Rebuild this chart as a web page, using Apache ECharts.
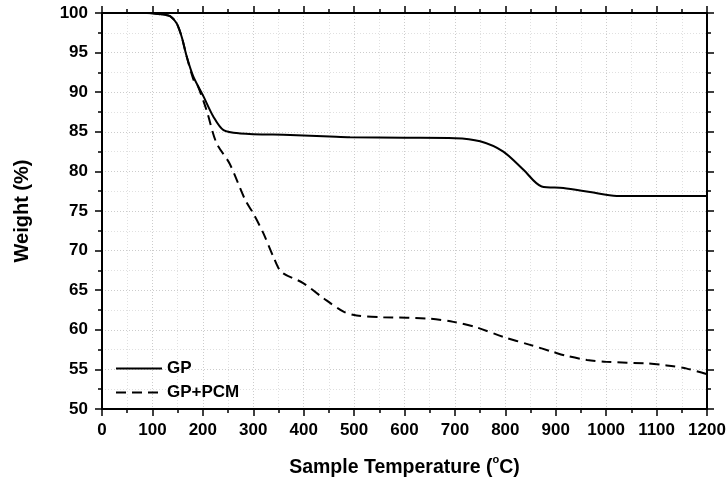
<!DOCTYPE html>
<html><head><meta charset="utf-8">
<script src="https://cdn.jsdelivr.net/npm/echarts@6/dist/echarts.min.js"></script>
<style>html,body{margin:0;padding:0;background:#fff}#c{width:728px;height:481px}</style>
</head><body><div id="c"></div>
<script>
const gpTemp = [0, 60, 89, 120, 135, 148, 158, 168, 181, 201, 221, 241, 274, 373, 452, 492, 600, 700, 750, 796, 836, 872, 915, 968, 1021, 1108, 1200];
const gpWeight = [100, 100, 100, 99.8, 99.6, 98.7, 97.0, 94.5, 92.0, 89.5, 86.9, 85.2, 84.8, 84.6, 84.4, 84.3, 84.25, 84.2, 83.8, 82.5, 80.2, 78.1, 77.9, 77.4, 76.9, 76.9, 76.9];
const pcmTemp = [0, 60, 89, 120, 135, 148, 158, 168, 182, 188, 207, 227, 253, 284, 300, 320, 340, 356, 399, 439, 479, 505, 558, 651, 697, 743, 796, 849, 895, 922, 962, 1001, 1081, 1120, 1160, 1200];
const pcmWeight = [100, 100, 100, 99.8, 99.6, 98.7, 97.0, 94.5, 91.5, 91.1, 87.8, 83.6, 81.0, 76.4, 74.7, 72.2, 69.2, 67.3, 65.9, 64.0, 62.3, 61.8, 61.6, 61.4, 61.0, 60.3, 59.1, 58.1, 57.2, 56.7, 56.2, 55.95, 55.75, 55.5, 55.1, 54.4];
const seriesNames = ['GP', 'GP+PCM'];
const xTitle = 'Sample Temperature (';
const yTitle = 'Weight (%)';

const font = 'Liberation Sans';
const chart = echarts.init(document.getElementById('c'));
const axisLine = {show: true, onZero: false, lineStyle: {color: '#000', width: 2}};
const tick = {show: true, inside: false, length: 7, lineStyle: {color: '#000', width: 1.5}};
const minorTick = {show: true, splitNumber: 2, length: 4, lineStyle: {color: '#000', width: 1.5}};
const split = {show: true, lineStyle: {color: '#cccccc', type: [1, 2], width: 1}};
const minorSplit = {show: true, lineStyle: {color: '#e0e0e0', type: [1, 2], width: 1}};
const label = {fontFamily: font, fontWeight: 'bold', fontSize: 17, color: '#000', formatter: v => String(v)};
function zip(a, b) { return a.map((v, i) => [v, b[i]]); }
chart.setOption({
  animation: false,
  grid: {left: 102, right: 21, top: 13, bottom: 72, containLabel: false, outerBoundsMode: 'none'},
  legend: {
    orient: 'vertical', left: 110, top: 355, itemWidth: 46, itemHeight: 14, itemGap: 7,
    itemStyle: {opacity: 0},
    textStyle: {fontFamily: font, fontWeight: 'bold', fontSize: 17, color: '#000'},
    data: seriesNames
  },
  xAxis: [{
    type: 'value', min: 0, max: 1200, interval: 100, position: 'bottom',
    axisLine, axisTick: tick, minorTick,
    splitLine: split, minorSplitLine: minorSplit,
    axisLabel: Object.assign({margin: 13}, label),
    name: '{t|' + xTitle + '}{s|o}{t|C)}', nameLocation: 'middle', nameGap: 45,
    nameTextStyle: {
      rich: {
        t: {fontFamily: font, fontWeight: 'bold', fontSize: 19.5, lineHeight: 24, color: '#000', verticalAlign: 'bottom'},
        s: {fontFamily: font, fontWeight: 'bold', fontSize: 11, lineHeight: 11, color: '#000', verticalAlign: 'top'}
      }
    }
  }, {
    type: 'value', min: 0, max: 1200, interval: 100, position: 'top',
    axisLine, axisTick: tick, minorTick, axisLabel: {show: false}, splitLine: {show: false}
  }],
  yAxis: [{
    type: 'value', min: 50, max: 100, interval: 5, position: 'left',
    axisLine, axisTick: tick, minorTick,
    splitLine: split, minorSplitLine: minorSplit,
    axisLabel: Object.assign({margin: 14}, label),
    name: yTitle, nameLocation: 'middle', nameGap: 70, nameRotate: 90,
    nameTextStyle: {fontFamily: font, fontWeight: 'bold', fontSize: 20, color: '#000'}
  }, {
    type: 'value', min: 50, max: 100, interval: 5, position: 'right',
    axisLine, axisTick: tick, minorTick, axisLabel: {show: false}, splitLine: {show: false}
  }],
  series: [{
    name: seriesNames[0], type: 'line', data: zip(gpTemp, gpWeight), showSymbol: false, symbol: 'none',
    smooth: 0.3, lineStyle: {color: '#000', width: 2, type: 'solid'}, itemStyle: {color: '#000'}
  }, {
    name: seriesNames[1], type: 'line', data: zip(pcmTemp, pcmWeight), showSymbol: false, symbol: 'none',
    smooth: 0.3, lineStyle: {color: '#000', width: 2, type: [10, 6]}, itemStyle: {color: '#000'}
  }]
});
</script></body></html>
